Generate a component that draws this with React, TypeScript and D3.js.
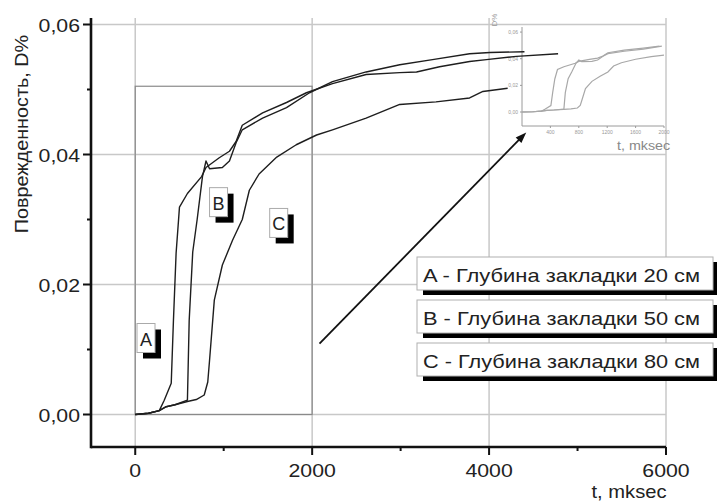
import React from 'react';
import * as d3 from 'd3';

// ---- Data (t in mksec, D in %) ----
const tA = [0, 150, 272, 328, 407, 432, 462, 490, 500, 590, 750, 800, 950, 1065, 1140, 1210, 1440, 1710, 1935, 2230, 2610, 2990, 3180, 3440, 3780, 3970, 4310, 4780];
const vA = [0, 0.0002, 0.0006, 0.0022, 0.0048, 0.0145, 0.0248, 0.030, 0.0319, 0.034, 0.0366, 0.038, 0.0395, 0.0405, 0.042, 0.0445, 0.0464, 0.048, 0.0495, 0.0509, 0.0523, 0.0526, 0.0527, 0.0535, 0.0543, 0.0546, 0.0551, 0.0555];

const tB = [0, 150, 272, 350, 450, 590, 610, 650, 700, 760, 800, 840, 985, 1065, 1140, 1210, 1440, 1710, 1970, 2230, 2610, 2990, 3360, 3780, 4010, 4400];
const vB = [0, 0.0002, 0.0006, 0.0012, 0.0015, 0.0022, 0.0145, 0.025, 0.030, 0.0366, 0.039, 0.0378, 0.038, 0.039, 0.0418, 0.0438, 0.0456, 0.0472, 0.0495, 0.0512, 0.0527, 0.0538, 0.0546, 0.0555, 0.0557, 0.0558];

const tC = [0, 150, 272, 350, 450, 590, 690, 780, 820, 840, 894, 985, 1100, 1210, 1290, 1400, 1600, 1820, 2050, 2230, 2610, 2990, 3400, 3780, 3930, 4210];
const vC = [0, 0.0002, 0.0006, 0.0012, 0.0015, 0.002, 0.0023, 0.003, 0.005, 0.0083, 0.0176, 0.023, 0.0268, 0.030, 0.0345, 0.037, 0.0396, 0.0415, 0.043, 0.0438, 0.0456, 0.0477, 0.0481, 0.0487, 0.0497, 0.0502];

const xTicks = [0, 2000, 4000, 6000];
const xMinor = [1000, 3000, 5000];
const yTicks = [0, 0.02, 0.04, 0.06];
const yMinor = [0.01, 0.03, 0.05];
const insetXTicks = [400, 800, 1200, 1600, 2000];
const insetYTicks = [0, 0.02, 0.04, 0.06];

const legendItems = ['A - Глубина закладки 20 см', 'B - Глубина закладки 50 см', 'C - Глубина закладки 80 см'];
const curveLabels = ['A', 'B', 'C'];
// label anchor positions (data coords: t, D)
const labelT = [20, 840, 1520];
const labelV = [0.014, 0.0349, 0.0317];
const zoomBox = { t0: 0, t1: 2000, v0: 0, v1: 0.0505 };
const arrowFrom = { t: 2083, v: 0.0109 };
const arrowTo = { t: 4420, v: 0.0434 };

const FONT = "'Liberation Sans', Arial, sans-serif";
const fmt = (v: number) => d3.format('.2f')(v).replace('.', ',');

export default function App() {
  const W = 717, H = 503;
  const x = d3.scaleLinear().domain([-500, 6000]).range([91, 666]);
  const y = d3.scaleLinear().domain([-0.005, 0.061]).range([447, 18]);

  const xi = d3.scaleLinear().domain([0, 2000]).range([522, 664]);
  const yi = d3.scaleLinear().domain([-0.0105, 0.0638]).range([126, 27]);

  const series = [
    tA.map((t, i) => [t, vA[i]] as [number, number]),
    tB.map((t, i) => [t, vB[i]] as [number, number]),
    tC.map((t, i) => [t, vC[i]] as [number, number]),
  ];
  const line = d3.line<[number, number]>().x(d => x(d[0])).y(d => y(d[1]));
  const lineI = d3.line<[number, number]>().x(d => xi(d[0])).y(d => yi(d[1]));

  const [x0, x1] = x.range();
  const yTop = y.range()[1], yBot = y.range()[0];
  const grid = '#c8c8c8';

  const ax = x(arrowFrom.t), ay = y(arrowFrom.v), bx = x(arrowTo.t), by = y(arrowTo.v);
  const ang = Math.atan2(by - ay, bx - ax);
  const hl = 11, hw = 4;
  const head = [
    [bx, by],
    [bx - hl * Math.cos(ang) + hw * Math.sin(ang), by - hl * Math.sin(ang) - hw * Math.cos(ang)],
    [bx - hl * Math.cos(ang) - hw * Math.sin(ang), by - hl * Math.sin(ang) + hw * Math.cos(ang)],
  ].map(p => p.join(',')).join(' ');

  const legendTop = [257, 300, 343];

  return (
    <svg width={W} height={H} style={{ position: 'absolute', left: 0, top: 0, background: '#fff' }} fontFamily={FONT}>
      <defs>
        <clipPath id="insetClip">
          <rect x={xi(0)} y={yi.range()[1]} width={xi(2000) - xi(0)} height={yi.range()[0] - yi.range()[1]} />
        </clipPath>
      </defs>
      <rect x={0} y={0} width={W} height={H} fill="#fff" />
      {/* grid */}
      {yTicks.map(v => (
        <line key={'gy' + v} x1={x0} x2={x1} y1={y(v)} y2={y(v)} stroke={grid} strokeWidth={1.5} />
      ))}
      {xTicks.map(t => (
        <line key={'gx' + t} x1={x(t)} x2={x(t)} y1={yTop} y2={yBot} stroke={grid} strokeWidth={1.5} />
      ))}
      {/* zoom rectangle */}
      <rect x={x(zoomBox.t0)} y={y(zoomBox.v1)} width={x(zoomBox.t1) - x(zoomBox.t0)} height={y(zoomBox.v0) - y(zoomBox.v1)} fill="none" stroke="#8a8a8a" strokeWidth={1.2} />

      {/* inset */}
      <g>
        <line x1={xi(0)} x2={xi(0)} y1={yi.range()[1]} y2={yi.range()[0]} stroke="#9a9a9a" strokeWidth={1} />
        <line x1={xi(0)} x2={xi(2000)} y1={yi.range()[0]} y2={yi.range()[0]} stroke="#9a9a9a" strokeWidth={1} />
        {insetYTicks.map(v => (
          <g key={'iy' + v}>
            <line x1={xi(0) - 2} x2={xi(0)} y1={yi(v)} y2={yi(v)} stroke="#9a9a9a" />
            <text x={xi(0) - 4} y={yi(v) + 2} fontSize={5} fill="#999" textAnchor="end">{fmt(v)}</text>
          </g>
        ))}
        {insetXTicks.map(t => (
          <g key={'ix' + t}>
            <line x1={xi(t)} x2={xi(t)} y1={yi.range()[0]} y2={yi.range()[0] + 2} stroke="#9a9a9a" />
            <text x={xi(t)} y={yi.range()[0] + 8} fontSize={5} fill="#999" textAnchor="middle">{t}</text>
          </g>
        ))}
        <g clipPath="url(#insetClip)">
          {series.map((s, i) => (
            <path key={'is' + i} d={lineI(s.filter(d => d[0] <= 2100)) || ''} fill="none" stroke="#a8a8a8" strokeWidth={1.2} />
          ))}
        </g>
        <text transform={`translate(497,20) rotate(-90)`} fontSize={8} fill="#999" textAnchor="middle">D%</text>
        <text transform={`translate(617,150) scale(1.1,1)`} fontSize={13} fill="#888">t, mksec</text>
      </g>

      {/* main curves */}
      {series.map((s, i) => (
        <path key={'s' + i} d={line(s) || ''} fill="none" stroke="#1e1e1e" strokeWidth={1.4} strokeLinejoin="round" />
      ))}

      {/* arrow */}
      <line x1={ax} y1={ay} x2={bx - 8 * Math.cos(ang)} y2={by - 8 * Math.sin(ang)} stroke="#111" strokeWidth={1.8} />
      <polygon points={head} fill="#111" />

      {/* axes */}
      <line x1={x0} x2={x0} y1={yTop} y2={yBot + 1.3} stroke="#111" strokeWidth={2.6} />
      <line x1={x0} x2={x1} y1={yBot} y2={yBot} stroke="#111" strokeWidth={2.6} />
      {yTicks.map(v => (
        <g key={'yt' + v}>
          <line x1={x0 - 8} x2={x0} y1={y(v)} y2={y(v)} stroke="#111" strokeWidth={2} />
          <text transform={`translate(80,${y(v) + 7}) scale(1.12,1)`} fontSize={19} textAnchor="end" fill="#222">{fmt(v)}</text>
        </g>
      ))}
      {yMinor.map(v => (
        <line key={'ym' + v} x1={x0 - 4} x2={x0} y1={y(v)} y2={y(v)} stroke="#111" strokeWidth={2} />
      ))}
      {xTicks.map(t => (
        <g key={'xt' + t}>
          <line x1={x(t)} x2={x(t)} y1={yBot} y2={yBot + 8} stroke="#111" strokeWidth={2} />
          <text transform={`translate(${x(t)},477) scale(1.12,1)`} fontSize={19} textAnchor="middle" fill="#222">{t}</text>
        </g>
      ))}
      {xMinor.map(t => (
        <line key={'xm' + t} x1={x(t)} x2={x(t)} y1={yBot} y2={yBot + 4} stroke="#111" strokeWidth={2} />
      ))}
      <text transform={`translate(629,498) scale(1.12,1)`} fontSize={18} textAnchor="middle" fill="#222">t, mksec</text>
      <text transform={`translate(28,134) rotate(-90) scale(1.1,1)`} fontSize={18} textAnchor="middle" fill="#222">Поврежденность, D%</text>

      {/* curve labels */}
      {curveLabels.map((c, i) => {
        const bx0 = x(labelT[i]), by0 = y(labelV[i]);
        return (
          <g key={'cl' + c}>
            <rect x={bx0 + 6} y={by0 + 6} width={18} height={29} fill="#000" />
            <rect x={bx0} y={by0} width={18} height={29} fill="#fff" stroke="#aaa" strokeWidth={1} />
            <text x={bx0 + 9} y={by0 + 22} fontSize={18} textAnchor="middle" fill="#222">{c}</text>
          </g>
        );
      })}

      {/* legend */}
      {legendItems.map((s, i) => (
        <g key={'lg' + i}>
          <rect x={423} y={legendTop[i] + 5} width={294} height={33} fill="#000" />
          <rect x={417} y={legendTop[i]} width={296} height={33} fill="#fff" stroke="#b0b0b0" strokeWidth={1} />
          <text x={423} y={legendTop[i] + 25} fontSize={19} fill="#222" textLength={277} lengthAdjust="spacingAndGlyphs">{s}</text>
        </g>
      ))}
    </svg>
  );
}
